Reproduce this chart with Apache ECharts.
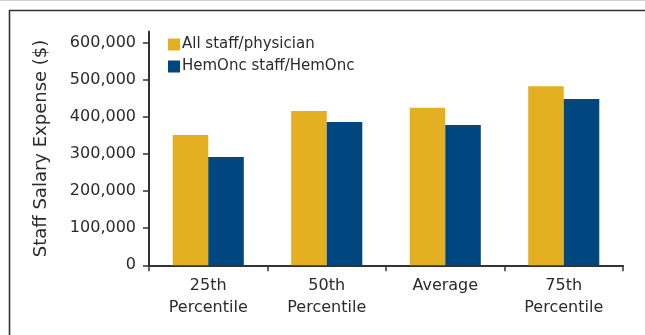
<!DOCTYPE html>
<html><head><meta charset="utf-8">
<script src="https://cdn.jsdelivr.net/npm/echarts@6/dist/echarts.min.js"></script>
<style>html,body{margin:0;padding:0;background:#fff}#c{width:645px;height:335px}</style>
</head><body><div id="c"></div>
<script>
const categories = ['25th\nPercentile', '50th\nPercentile', 'Average', '75th\nPercentile'];
const allStaff = [351000, 416000, 425000, 483000];
const hemOnc = [292000, 386000, 378000, 448000];
const yTicks = [0, 100000, 200000, 300000, 400000, 500000, 600000];
const seriesNames = ['All staff/physician', 'HemOnc staff/HemOnc'];

const txt = '#2b2b2b';
const font = 'DejaVu Sans';
const chart = echarts.init(document.getElementById('c'), null, {renderer: 'canvas'});
chart.setOption({
  animation: false,
  textStyle: {fontFamily: font},
  graphic: [
    {type: 'line', shape: {x1: 0, y1: 0.5, x2: 645, y2: 0.5}, style: {stroke: '#cfcfcf', lineWidth: 1}},
    {type: 'polyline', shape: {points: [[9.5, 340], [9.5, 10.5], [650, 10.5]]}, style: {stroke: '#333', lineWidth: 1.6, fill: null}}
  ],
  legend: {
    left: 163, top: 32, orient: 'vertical', itemGap: 7,
    itemWidth: 12, itemHeight: 12, icon: 'rect',
    textStyle: {fontSize: 15, color: txt, fontFamily: font, padding: [0, 0, 0, -3]},
    data: seriesNames
  },
  grid: {left: 149, right: 22, top: 31.6, bottom: 69.7},
  xAxis: {
    type: 'category', data: categories,
    axisLine: {lineStyle: {color: '#333', width: 2}},
    axisTick: {show: true, length: 6, lineStyle: {color: '#333', width: 1.5}},
    axisLabel: {fontSize: 16, color: txt, lineHeight: 22, margin: 10, fontFamily: font}
  },
  yAxis: {
    type: 'value', min: 0, max: 630000, interval: 100000,
    name: 'Staff Salary Expense ($)', nameLocation: 'middle', nameGap: 99,
    nameTextStyle: {fontSize: 18, color: txt, fontFamily: font},
    splitLine: {show: false},
    axisLine: {show: true, lineStyle: {color: '#333', width: 2}},
    axisTick: {show: true, length: 6, customValues: yTicks, lineStyle: {color: '#333', width: 1.5}},
    axisLabel: {fontSize: 16, color: txt, margin: 13, customValues: yTicks, fontFamily: font,
      formatter: v => v.toLocaleString('en-US')}
  },
  series: [
    {name: seriesNames[0], type: 'bar', data: allStaff, barWidth: '30%', barGap: '0%', itemStyle: {color: '#E4B022'}},
    {name: seriesNames[1], type: 'bar', data: hemOnc, barWidth: '30%', barGap: '0%', itemStyle: {color: '#00467F'}}
  ]
});
</script></body></html>
